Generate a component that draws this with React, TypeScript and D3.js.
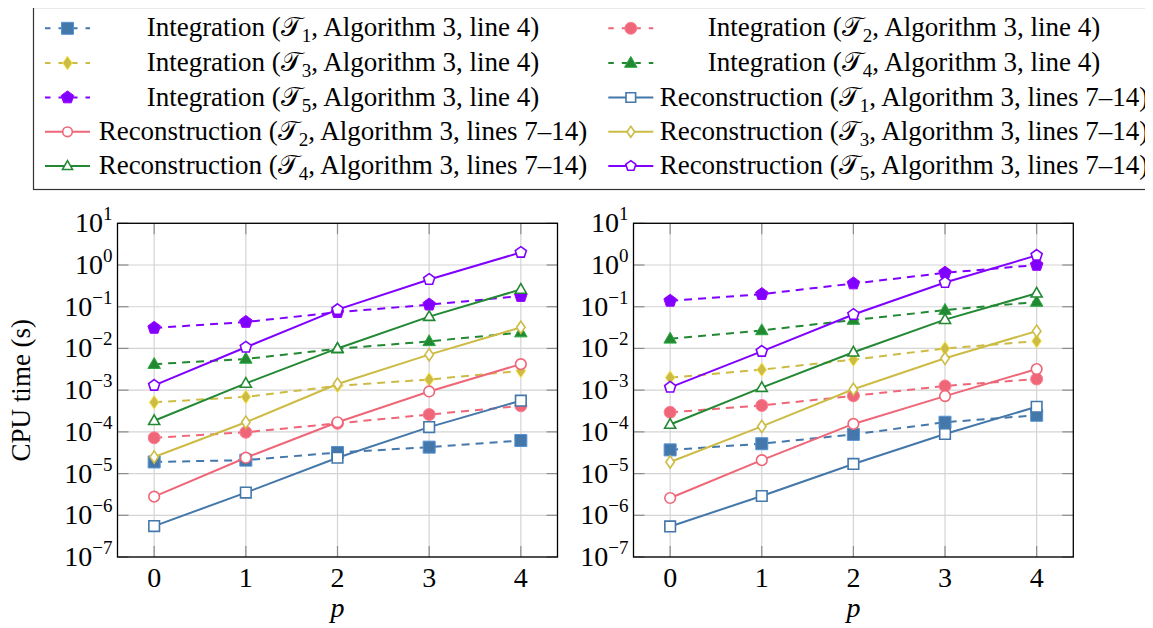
import React from 'react';
import * as d3 from 'd3';

const pValues = [0, 1, 2, 3, 4];
const meshIds = ['1', '2', '3', '4', '5'];
const seriesColors = ['#4477AA', '#EE6677', '#CCBB44', '#228833', '#8000FF'];
const markerKinds = ['square', 'circle', 'diamond', 'triangle', 'pentagon'];
const yTickExponents = [1, 0, -1, -2, -3, -4, -5, -6, -7];

// CPU time (s), one row per mesh T1..T5
const leftIntegration = [
  [1.9e-5, 2.1e-5, 3.2e-5, 4.3e-5, 6.2e-5],
  [7.2e-5, 9.8e-5, 1.6e-4, 2.6e-4, 4.2e-4],
  [5.1e-4, 6.9e-4, 1.27e-3, 1.8e-3, 2.9e-3],
  [4.2e-3, 5.6e-3, 9.8e-3, 1.48e-2, 2.4e-2],
  [3.1e-2, 4.3e-2, 7.4e-2, 0.112, 0.18],
];
const leftReconstruction = [
  [5.5e-7, 3.5e-6, 2.4e-5, 1.3e-4, 5.6e-4],
  [2.8e-6, 2.4e-5, 1.7e-4, 9.3e-4, 4.2e-3],
  [2.5e-5, 1.7e-4, 1.4e-3, 7.1e-3, 3.2e-2],
  [1.85e-4, 1.45e-3, 1.0e-2, 5.8e-2, 0.26],
  [1.3e-3, 1.07e-2, 8.5e-2, 0.45, 2.0],
];
const rightIntegration = [
  [3.7e-5, 5.2e-5, 8.7e-5, 1.7e-4, 2.5e-4],
  [2.95e-4, 4.3e-4, 7.3e-4, 1.26e-3, 1.85e-3],
  [2.0e-3, 3.1e-3, 5.4e-3, 1.0e-2, 1.5e-2],
  [1.7e-2, 2.7e-2, 4.8e-2, 8.3e-2, 0.13],
  [0.138, 0.2, 0.36, 0.65, 1.0],
];
const rightReconstruction = [
  [5.4e-7, 2.9e-6, 1.7e-5, 8.9e-5, 4.0e-4],
  [2.6e-6, 2.1e-5, 1.55e-4, 7.2e-4, 3.2e-3],
  [1.9e-5, 1.35e-4, 1.05e-3, 5.8e-3, 2.6e-2],
  [1.5e-4, 1.15e-3, 8.1e-3, 4.9e-2, 0.21],
  [1.17e-3, 8.5e-3, 6.5e-2, 0.38, 1.7],
];

const SERIF = 'Liberation Serif';
const TOP = 223.3, BOTTOM = 557;
const panels = [
  { x0: 117.5, x1: 557.5, integ: leftIntegration, recon: leftReconstruction, yLabel: true },
  { x0: 633.5, x1: 1073.3, integ: rightIntegration, recon: rightReconstruction, yLabel: false },
];

// custom marker shapes (radius-based)
function markerPath(kind: string, r: number) {
  const p = d3.path();
  if (kind === 'square') {
    p.rect(-r, -r, 2 * r, 2 * r);
  } else if (kind === 'circle') {
    p.arc(0, 0, r, 0, Math.PI * 2);
  } else if (kind === 'diamond') {
    const w = r * 0.8, h = r * 1.15;
    p.moveTo(0, -h); p.lineTo(w, 0); p.lineTo(0, h); p.lineTo(-w, 0); p.closePath();
  } else if (kind === 'triangle') {
    const h = r * 1.1;
    p.moveTo(0, -h); p.lineTo(h * 0.95, h * 0.65); p.lineTo(-h * 0.95, h * 0.65); p.closePath();
  } else {
    for (let k = 0; k < 5; k++) {
      const a = -Math.PI / 2 + (k * 2 * Math.PI) / 5;
      const rr = r * 1.1;
      if (k === 0) p.moveTo(rr * Math.cos(a), rr * Math.sin(a));
      else p.lineTo(rr * Math.cos(a), rr * Math.sin(a));
    }
    p.closePath();
  }
  return p.toString();
}

function Marker({ kind, color, filled, x, y, r }: any) {
  return (
    <path
      d={markerPath(kind, r)}
      transform={`translate(${x},${y})`}
      fill={filled ? color : '#fff'}
      stroke={filled ? d3.color(color)!.brighter(0.6).formatHex() : color}
      strokeWidth={filled ? 1 : 1.6}
    />
  );
}

function scalesFor(pn: any) {
  const x = d3.scaleLinear().domain([-0.4, 4.4]).range([pn.x0, pn.x1]);
  const y = d3.scaleLog().domain([1e-7, 10]).range([BOTTOM, TOP]);
  return { x, y };
}

function PanelMarks({ pn }: any) {
  const { x0, x1, integ, recon } = pn;
  const { x, y } = scalesFor(pn);
  const line = d3.line<number>().x((_, i) => x(pValues[i])).y(d => y(d));
  const tickLen = 11;
  return (
    <g>
      {pValues.map(p => (
        <line key={'gx' + p} x1={x(p)} x2={x(p)} y1={TOP} y2={BOTTOM} stroke="#d4d4d4" strokeWidth={1.2} />
      ))}
      {yTickExponents.map(e => (
        <line key={'gy' + e} x1={x0} x2={x1} y1={y(Math.pow(10, e))} y2={y(Math.pow(10, e))} stroke="#d4d4d4" strokeWidth={1.2} />
      ))}
      {pValues.map(p => (
        <g key={'tx' + p} stroke="#8c8c8c" strokeWidth={1.2}>
          <line x1={x(p)} x2={x(p)} y1={TOP} y2={TOP + tickLen} />
          <line x1={x(p)} x2={x(p)} y1={BOTTOM} y2={BOTTOM - tickLen} />
        </g>
      ))}
      {yTickExponents.map(e => (
        <g key={'ty' + e} stroke="#8c8c8c" strokeWidth={1.2}>
          <line x1={x0} x2={x0 + tickLen} y1={y(Math.pow(10, e))} y2={y(Math.pow(10, e))} />
          <line x1={x1} x2={x1 - tickLen} y1={y(Math.pow(10, e))} y2={y(Math.pow(10, e))} />
        </g>
      ))}

      {integ.map((row: number[], i: number) => (
        <path key={'il' + i} d={line(row) || ''} fill="none" stroke={seriesColors[i]} strokeWidth={2} strokeDasharray="8,6" />
      ))}
      {integ.map((row: number[], i: number) =>
        row.map((v, j) => (
          <Marker key={'im' + i + j} kind={markerKinds[i]} color={seriesColors[i]} filled x={x(pValues[j])} y={y(v)} r={6} />
        ))
      )}
      {recon.map((row: number[], i: number) => (
        <path key={'rl' + i} d={line(row) || ''} fill="none" stroke={seriesColors[i]} strokeWidth={2} />
      ))}
      {recon.map((row: number[], i: number) =>
        row.map((v, j) => (
          <Marker key={'rm' + i + j} kind={markerKinds[i]} color={seriesColors[i]} filled={false} x={x(pValues[j])} y={y(v)} r={5.3} />
        ))
      )}

      <rect x={x0} y={TOP} width={x1 - x0} height={BOTTOM - TOP} fill="none" stroke="#000" strokeWidth={1.3} />
    </g>
  );
}

function PanelText({ pn }: any) {
  const { x, y } = scalesFor(pn);
  return (
    <g>
      {yTickExponents.map(e => (
        <text key={'yl' + e} x={pn.x0 - 5} y={y(Math.pow(10, e)) + 9} textAnchor="end" fontSize={28} fontFamily={SERIF}>
          10<tspan dy={-12} fontSize={19}>{e < 0 ? '\u2212' + -e : String(e)}</tspan>
        </text>
      ))}
      {pValues.map(p => (
        <text key={'xl' + p} x={x(p)} y={587} textAnchor="middle" fontSize={28} fontFamily={SERIF}>{p}</text>
      ))}
      <text x={(pn.x0 + pn.x1) / 2} y={617} textAnchor="middle" fontSize={28} fontStyle="italic" fontFamily={SERIF}>p</text>
      {pn.yLabel && (
        <text transform={`translate(30,${(TOP + BOTTOM) / 2}) rotate(-90)`} textAnchor="middle" fontSize={27} fontFamily={SERIF}>
          CPU time (s)
        </text>
      )}
    </g>
  );
}

const legendEntries: { kind: string; color: string; filled: boolean; id: string; label: string }[] = [];
meshIds.forEach((id, i) => legendEntries.push({ kind: markerKinds[i], color: seriesColors[i], filled: true, id, label: 'Integration (' }));
meshIds.forEach((id, i) => legendEntries.push({ kind: markerKinds[i], color: seriesColors[i], filled: false, id, label: 'Reconstruction (' }));

function Legend() {
  const rowY = [28.3, 63, 97.5, 131.8, 166];
  const sampleX = [45, 608.3];
  const textCx = [343, 904];
  return (
    <g>
      <rect x={33.5} y={7.5} width={1130} height={182} fill="#fff" stroke="#333" strokeWidth={1.2} />
      {legendEntries.map((e, k) => {
        const row = Math.floor(k / 2), col = k % 2;
        const yy = rowY[row];
        const sx = sampleX[col];
        return (
          <g key={'lg' + k}>
            <line x1={sx} x2={sx + 45} y1={yy} y2={yy} stroke={e.color} strokeWidth={2}
              strokeDasharray={e.filled ? '5.5,8' : undefined} />
            <Marker kind={e.kind} color={e.color} filled={e.filled} x={sx + 22.5} y={yy} r={e.filled ? 6 : 4.8} />
            <text x={textCx[col]} y={yy + 8} textAnchor="middle" fontSize={27} fontFamily={SERIF}>
              {e.label}
              <tspan>{'\u{1D4AF}'}</tspan>
              <tspan dy={6} fontSize={19}>{e.id}</tspan>
              <tspan dy={-6}>{e.filled ? ', Algorithm 3, line 4)' : ', Algorithm 3, lines 7\u201314)'}</tspan>
            </text>
          </g>
        );
      })}
    </g>
  );
}

export default function App() {
  // the svg sits at the body's 8px margin; shift the drawing back so page coords match
  return (
    <svg width={1145} height={620} fontFamily={SERIF}>
      <g transform="translate(-8,-8)">
        {panels.map((pn, i) => <PanelText key={'pt' + i} pn={pn} />)}
        <Legend />
        {panels.map((pn, i) => <PanelMarks key={'pm' + i} pn={pn} />)}
      </g>
    </svg>
  );
}
